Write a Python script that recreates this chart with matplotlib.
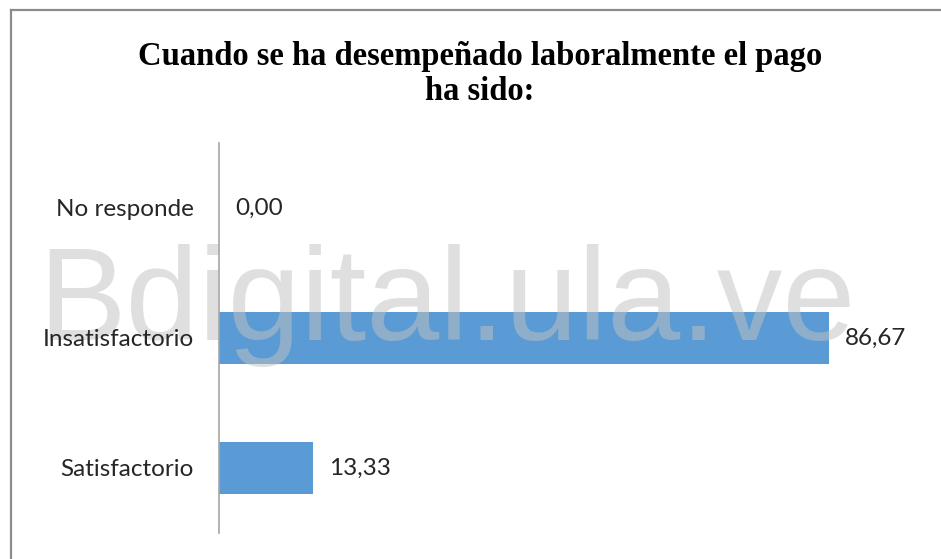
import matplotlib.pyplot as plt
from matplotlib.lines import Line2D

# data, bottom to top as drawn
categories = ["Satisfactorio", "Insatisfactorio", "No responde"]
values = [13.33, 86.67, 0.00]
value_labels = ["13,33", "86,67", "0,00"]

W, H = 941, 559
fig = plt.figure(figsize=(W / 100, H / 100), dpi=100, facecolor="white")
ax = fig.add_axes([219 / W, 1 - 533 / H, 704 / W, 390 / H])

# chart frame: only the left and top edges show in the picture
fig.add_artist(Line2D([10.5 / W, 10.5 / W], [0, 1 - 9.5 / H], color="#8c8c8c", lw=1.6,
                      transform=fig.transFigure))
fig.add_artist(Line2D([10.5 / W, 1], [1 - 9.5 / H, 1 - 9.5 / H], color="#8c8c8c", lw=1.6,
                      transform=fig.transFigure))

ypos = range(len(categories))
ax.barh(ypos, values, height=0.4, color="#5b9bd5", zorder=1)
ax.set_xlim(0, 100)
ax.set_ylim(-0.5, 2.5)

for y, v, lab in zip(ypos, values, value_labels):
    ax.text(v + 2.3, y, lab, va="center", ha="left", fontsize=17.5, family="Lato",
            color="#262626", zorder=4)

ax.set_yticks(list(ypos))
ax.set_yticklabels(categories, fontsize=17.5, family="Lato", color="#262626")
ax.tick_params(axis="y", length=0, pad=18)
ax.set_xticks([])
ax.yaxis.set_zorder(4)
for s in ["top", "right", "bottom"]:
    ax.spines[s].set_visible(False)
ax.spines["left"].set_color("#a6a6a6")
ax.spines["left"].set_linewidth(1.2)

# watermark over the bars
ax.text(447 / W, 1 - 340 / H, "Bdigital.ula.ve", transform=fig.transFigure,
        ha="center", va="baseline", fontsize=94.5, family="Liberation Sans",
        color="#c1c1c1", alpha=0.5, zorder=2, clip_on=False)

fig.text(480 / W, 1 - 65 / H, "Cuando se ha desempeñado laboralmente el pago",
         ha="center", va="baseline", fontsize=23.5, family="Liberation Serif",
         weight="bold")
fig.text(480 / W, 1 - 100 / H, "ha sido:", ha="center", va="baseline",
         fontsize=23.5, family="Liberation Serif", weight="bold")

fig.savefig("out.png", dpi=100, facecolor="white")
